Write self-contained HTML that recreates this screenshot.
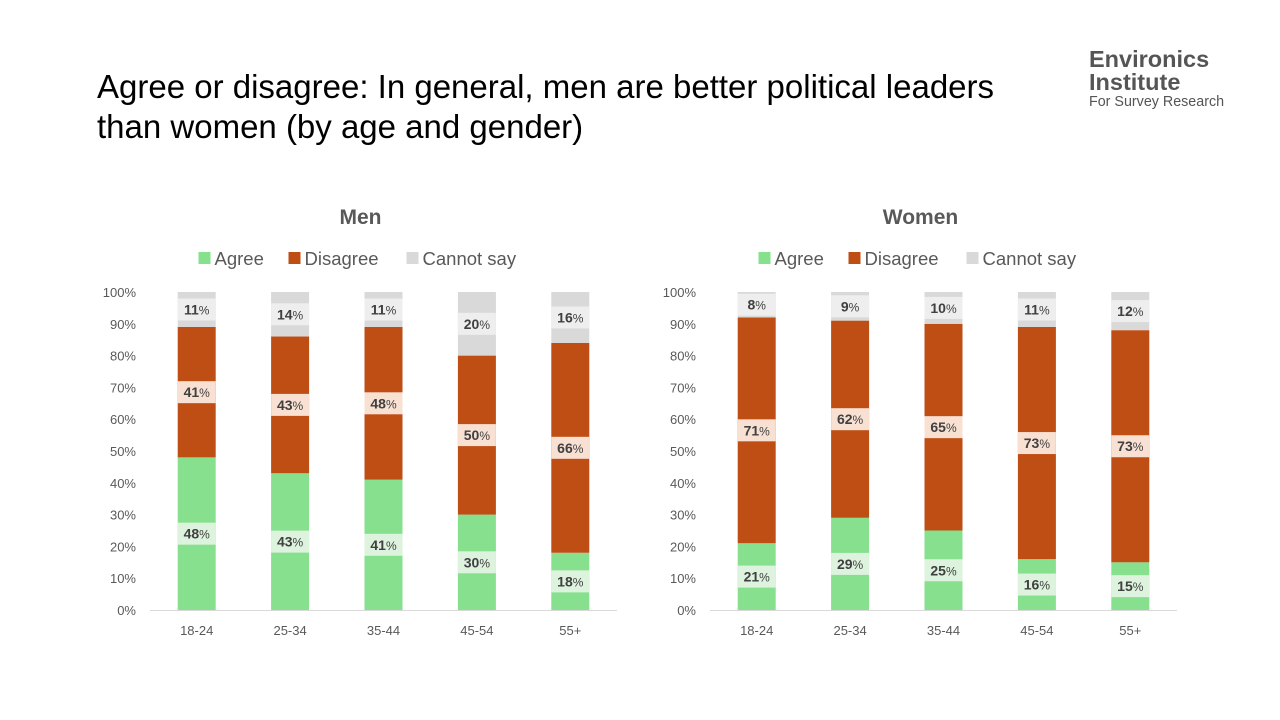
<!DOCTYPE html>
<html><head><meta charset="utf-8"><style>
body{margin:0;width:1280px;height:720px;background:#fff;font-family:"Liberation Sans",sans-serif;overflow:hidden;position:relative}
#title{position:absolute;left:97px;top:67px;font-size:33px;line-height:40px;color:#000}
#logo{position:absolute;left:1089px;top:48px;color:#555}
</style></head><body>
<div id="title">Agree or disagree: In general, men are better political leaders<br>than women (by age and gender)</div>
<div id="logo">
<div style="font-size:23.5px;font-weight:bold;line-height:23px;color:#555">Environics</div>
<div style="font-size:23.5px;font-weight:bold;line-height:22px;color:#555">Institute</div>
<div style="font-size:14.3px;line-height:18px;color:#555">For Survey Research</div>
</div>
<svg id="chart" width="1280" height="720" style="position:absolute;left:0;top:0"></svg>
<script>
const categories=["18-24","25-34","35-44","45-54","55+"];
const menAgree=[48,43,41,30,18];
const menDisagree=[41,43,48,50,66];
const menCannot=[11,14,11,20,16];
const womenAgree=[21,29,25,16,15];
const womenDisagree=[71,62,65,73,73];
const womenCannot=[8,9,10,11,12];
const yTicks=[0,10,20,30,40,50,60,70,80,90,100];
const seriesNames=["Agree","Disagree","Cannot say"];
const colors=["#86E08E","#BF4E14","#D9D9D9"];
const labelBg=["#DDF3DE","#F8E0D2","#EEEEEE"];
const svg=document.getElementById('chart');
const NS="http://www.w3.org/2000/svg";
function mk(t,a,txt){const e=document.createElementNS(NS,t);for(const k in a)e.setAttribute(k,a[k]);if(txt!==undefined)e.textContent=txt;svg.appendChild(e);return e;}
function drawPanel(title,x0,x1,series){
  const y0=610,y1=292;
  const ys=v=>y0-(v/100)*(y0-y1);
  const step=(x1-x0)/categories.length;
  const xs=i=>x0+step*(i+0.5);
  const cx=(x0+x1)/2-23;
  let t=mk('text',{x:cx,y:224,'text-anchor':'middle','font-size':21,'font-weight':'bold',fill:'#595959'},title);
  
  
  const lx=[cx-162,cx-72,cx+46];
  seriesNames.forEach((n,k)=>{
    let r=mk('rect',{x:lx[k],y:252,width:12,height:12,fill:colors[k]});
    
    
    let lt=mk('text',{x:lx[k]+16,y:265,'font-size':18.5,fill:'#595959'},n);
    
    
  });
  yTicks.forEach(v=>{
    let tl=mk('text',{x:x0-14,y:ys(v)+5,'text-anchor':'end','font-size':13,fill:'#595959'},v+'%');
    
    
  });
  let ax=mk('line',{x1:x0,x2:x1,y1:y0+0.5,y2:y0+0.5,stroke:'#D9D9D9','stroke-width':1});
  
  
  categories.forEach((c,i)=>{
    let xl=mk('text',{x:xs(i),y:635,'text-anchor':'middle','font-size':13,fill:'#595959'},c);
    
    
    let base=0;const bw=38;
    series.forEach((arr,k)=>{
      const v=arr[i];
      let r=mk('rect',{x:xs(i)-bw/2,y:ys(base+v),width:bw,height:ys(base)-ys(base+v),fill:colors[k]});
      
      
      const my=ys(base+v/2);
      let lb=mk('rect',{x:xs(i)-bw/2,y:my-11,width:bw,height:22,fill:labelBg[k]});
      
      
      let tx=mk('text',{x:xs(i),y:my+5,'text-anchor':'middle','font-size':14,'font-weight':'bold',fill:'#404040'});
      tx.innerHTML=v+'<tspan font-size="12" font-weight="normal">%</tspan>';
      
      
      base+=v;
    });
  });
}
drawPanel("Men",150,617,[menAgree,menDisagree,menCannot]);
drawPanel("Women",710,1177,[womenAgree,womenDisagree,womenCannot]);
</script>
</body></html>
